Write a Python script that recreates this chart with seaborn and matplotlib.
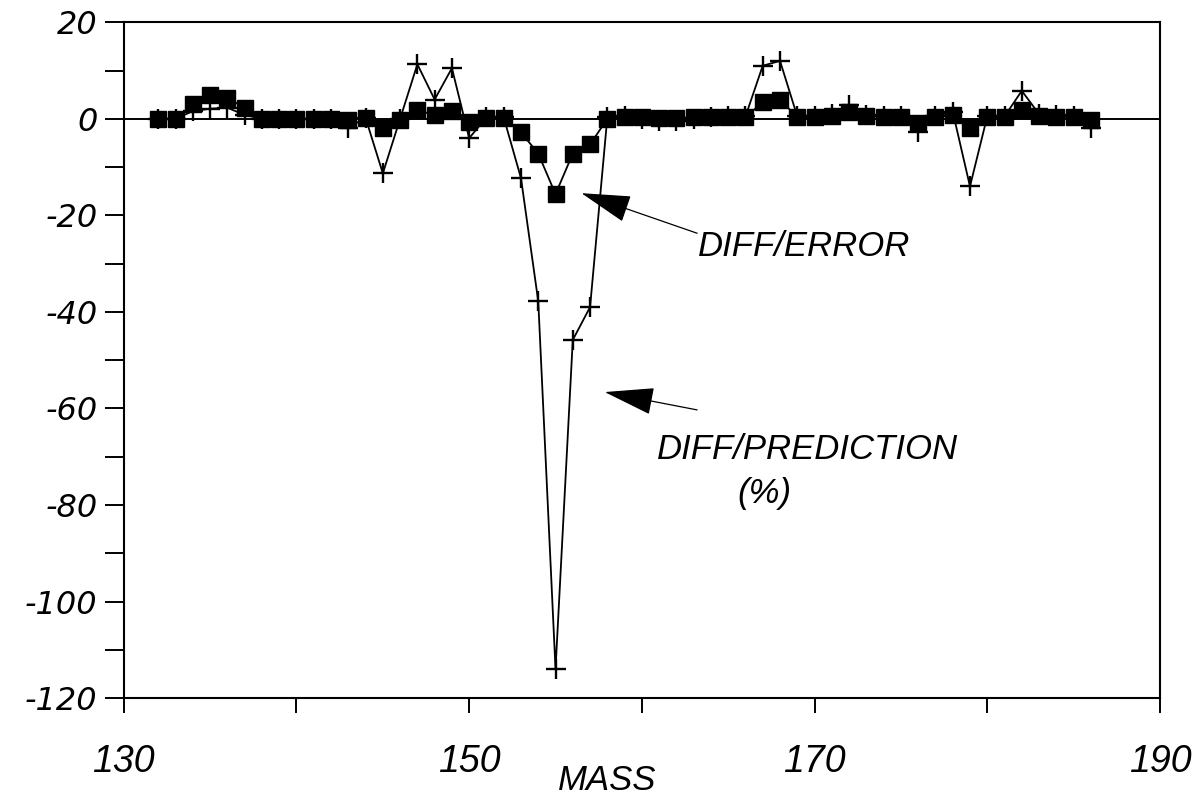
import matplotlib
matplotlib.use("Agg")
import matplotlib.pyplot as plt
import pandas as pd
import seaborn as sns
from matplotlib.ticker import FixedLocator, MultipleLocator

# Mass numbers (one point per unit mass)
mass = list(range(132, 187))

# DIFF/ERROR (filled squares)
diff_error = [
    0.0, 0.0, 3.0, 5.0, 4.3, 2.3, 0.0, 0.0, 0.0, 0.0,      # 132-141
    0.0, -0.3, 0.2, -2.0, -0.2, 1.8, 0.8, 1.6, -0.6, 0.2,  # 142-151
    0.2, -2.8, -7.2, -15.6, -7.2, -5.3, 0.0, 0.3, 0.3, 0.2,  # 152-161
    0.2, 0.3, 0.3, 0.3, 0.3, 3.5, 4.0, 0.3, 0.4, 0.6,      # 162-171
    1.5, 0.6, 0.4, 0.4, -0.9, 0.4, 0.8, -2.0, 0.3, 0.4,    # 172-181
    1.8, 0.5, 0.4, 0.4, -0.3,                              # 182-186
]

# DIFF/PREDICTION in percent (crosses)
diff_prediction = [
    0.0, 0.0, 1.6, 2.1, 2.3, 0.8, 0.0, 0.0, 0.0, 0.0,          # 132-141
    0.0, -1.8, 0.2, -11.3, 0.0, 11.3, 4.0, 10.5, -4.0, 0.3,    # 142-151
    0.3, -12.3, -37.8, -114.0, -45.8, -39.0, 0.3, 0.5, 0.0, -0.5,  # 152-161
    -0.5, 0.0, 0.3, 0.5, 0.5, 11.0, 12.0, 0.5, 0.5, 1.0,       # 162-171
    2.8, 0.8, 0.5, 0.5, -2.8, 0.5, 1.5, -14.0, 0.5, 0.5,       # 172-181
    5.8, 1.0, 0.8, 0.5, -2.0,                                  # 182-186
]

x_major = [130, 150, 170, 190]
x_minor = [140, 160, 180]
y_major = list(range(-120, 21, 20))

df = pd.DataFrame({"mass": mass, "error": diff_error, "prediction": diff_prediction})

sns.set_theme(style="ticks")
plt.rcParams["font.family"] = ["Liberation Sans", "DejaVu Sans"]
plt.rcParams["font.style"] = "italic"
plt.rcParams["axes.unicode_minus"] = False

fig = plt.figure(figsize=(12.02, 7.96), dpi=100)
ax = fig.add_axes([0.103, 0.123, 0.862, 0.849])

ax.axhline(0, color="black", lw=1.4, zorder=1)

sns.lineplot(data=df, x="mass", y="prediction", ax=ax, color="black", lw=1.3,
             marker="+", markersize=14, mew=1.7, mec="black", zorder=2)
sns.lineplot(data=df, x="mass", y="error", ax=ax, color="black", lw=1.3,
             marker="s", markersize=11, mew=1.0, mec="black", mfc="black", zorder=3)

ax.set_xlim(130, 190)
ax.set_ylim(-120, 20)
ax.set_xticks(x_major)
ax.xaxis.set_minor_locator(FixedLocator(x_minor))
ax.set_yticks(y_major)
ax.yaxis.set_minor_locator(MultipleLocator(10))
ax.tick_params(which="both", direction="out", width=1.4, color="black",
               left=True, bottom=True, top=False, right=False)
ax.tick_params(axis="y", which="both", length=14)
ax.tick_params(axis="x", which="both", length=11)
ax.tick_params(axis="y", which="major", pad=5)
ax.tick_params(axis="x", which="major", pad=22)

for lab in ax.get_yticklabels():
    lab.set_fontfamily(["DejaVu Sans"])
    lab.set_fontstyle("oblique")
    lab.set_fontsize(23)
    lab.set_color("black")
for lab in ax.get_xticklabels():
    lab.set_fontfamily(["Liberation Sans"])
    lab.set_fontstyle("italic")
    lab.set_fontsize(27)
    lab.set_color("black")

for side in ["left", "right", "top", "bottom"]:
    ax.spines[side].set_visible(True)
    ax.spines[side].set_color("black")
    ax.spines[side].set_linewidth(1.5)

ax.set_xlabel("MASS", fontsize=25, style="italic", color="black")
ax.xaxis.set_label_coords(0.466, -0.098)
ax.set_ylabel("")

# Callouts for the two series
ax.annotate("", xy=(156.5, -15.4), xytext=(163.2, -23.7),
            arrowprops=dict(arrowstyle="-|>,head_length=0.8,head_width=0.22",
                            mutation_scale=40, color="black", lw=0.9,
                            shrinkA=0, shrinkB=0))
ax.text(169.4, -26.5, "DIFF/ERROR", ha="center", va="center", fontsize=25,
        style="italic", color="black")

ax.annotate("", xy=(157.85, -56.6), xytext=(163.2, -60.3),
            arrowprops=dict(arrowstyle="-|>,head_length=0.8,head_width=0.22",
                            mutation_scale=40, color="black", lw=0.9,
                            shrinkA=0, shrinkB=0))
ax.text(169.6, -68.6, "DIFF/PREDICTION", ha="center", va="center", fontsize=25,
        style="italic", color="black")
ax.text(167.1, -77.6, "(%)", ha="center", va="center", fontsize=25,
        style="italic", color="black")

fig.savefig("out.png", dpi=100, facecolor="white")
